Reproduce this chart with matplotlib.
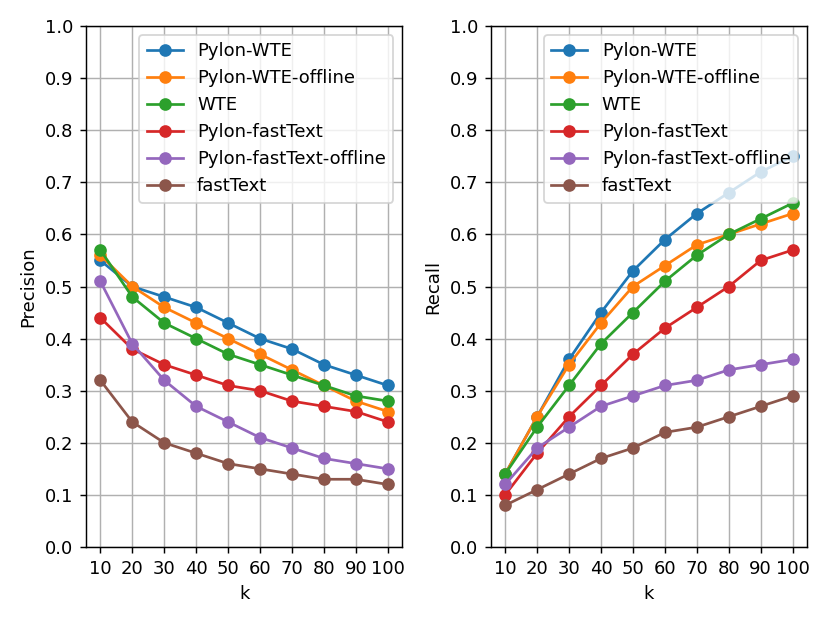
import numpy as np
from matplotlib import pyplot as plt

k = [10, 20, 30, 40, 50, 60, 70, 80, 90, 100]
labels = ['Pylon-WTE', 'Pylon-WTE-offline', 'WTE', 'Pylon-fastText',
          'Pylon-fastText-offline', 'fastText']

precision = {
    'Pylon-WTE': [0.55, 0.50, 0.48, 0.46, 0.43, 0.40, 0.38, 0.35, 0.33, 0.31],
    'Pylon-WTE-offline': [0.56, 0.50, 0.46, 0.43, 0.40, 0.37, 0.34, 0.31, 0.28, 0.26],
    'WTE': [0.57, 0.48, 0.43, 0.40, 0.37, 0.35, 0.33, 0.31, 0.29, 0.28],
    'Pylon-fastText': [0.44, 0.38, 0.35, 0.33, 0.31, 0.30, 0.28, 0.27, 0.26, 0.24],
    'Pylon-fastText-offline': [0.51, 0.39, 0.32, 0.27, 0.24, 0.21, 0.19, 0.17, 0.16, 0.15],
    'fastText': [0.32, 0.24, 0.20, 0.18, 0.16, 0.15, 0.14, 0.13, 0.13, 0.12],
}

recall = {
    'Pylon-WTE': [0.14, 0.25, 0.36, 0.45, 0.53, 0.59, 0.64, 0.68, 0.72, 0.75],
    'Pylon-WTE-offline': [0.14, 0.25, 0.35, 0.43, 0.50, 0.54, 0.58, 0.60, 0.62, 0.64],
    'WTE': [0.14, 0.23, 0.31, 0.39, 0.45, 0.51, 0.56, 0.60, 0.63, 0.66],
    'Pylon-fastText': [0.10, 0.18, 0.25, 0.31, 0.37, 0.42, 0.46, 0.50, 0.55, 0.57],
    'Pylon-fastText-offline': [0.12, 0.19, 0.23, 0.27, 0.29, 0.31, 0.32, 0.34, 0.35, 0.36],
    'fastText': [0.08, 0.11, 0.14, 0.17, 0.19, 0.22, 0.23, 0.25, 0.27, 0.29],
}

fig, axes = plt.subplots(1, 2, figsize=(830 / 130, 623 / 130), dpi=130)

for ax, data, ylabel in zip(axes, [precision, recall], ['Precision', 'Recall']):
    for name in labels:
        ax.plot(k, data[name], marker='o', label=name)
    ax.set_xlabel('k')
    ax.set_ylabel(ylabel)
    ax.set_xticks(k)
    ax.set_yticks(np.arange(0, 1.01, 0.1))
    ax.set_ylim(0, 1.0)
    ax.grid(True)
    ax.legend(loc='upper right')

fig.subplots_adjust(left=86 / 830, right=807 / 830, bottom=1 - 547 / 623,
                    top=1 - 26 / 623, wspace=0.28)
plt.savefig('out.png')
